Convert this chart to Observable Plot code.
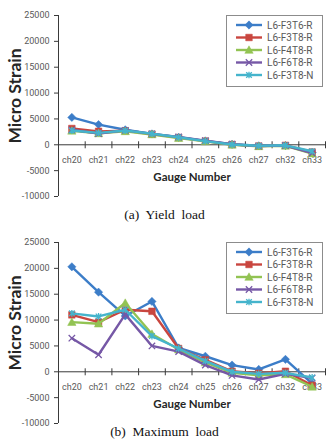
<!DOCTYPE html>
<html>
<head>
<meta charset="utf-8">
<script src="https://cdn.jsdelivr.net/npm/d3@7"></script>
<script src="https://cdn.jsdelivr.net/npm/@observablehq/plot@0.6"></script>
<style>
  body { margin: 0; background: #fff; }
  #page { position: relative; width: 329px; height: 441px; overflow: hidden; background: #fff; }
  .panel { position: absolute; left: 0; width: 329px; }
  .caption { position: absolute; left: 0; width: 329px; text-align: center; white-space: pre;
             font-family: "Liberation Serif", "Times New Roman", serif; font-size: 13.5px; line-height: 16px; color: #111; }
  .legend { position: absolute; left: 226px; top: 15px; width: 97px; height: 72px; box-sizing: border-box;
            border: 1px solid #8c8c8c; background: #fff; }
  .legend svg { display: block; }
</style>
</head>
<body>
<div id="page"></div>
<script>
// Strain gauge channels along the beam
const gauges = ["ch20", "ch21", "ch22", "ch23", "ch24", "ch25", "ch26", "ch27", "ch32", "ch33"];
const specimens = ["L6-F3T6-R", "L6-F3T8-R", "L6-F4T8-R", "L6-F6T8-R", "L6-F3T8-N"];
const specimenColors = ["#3c7dc8", "#c9463f", "#92c353", "#7658a6", "#45b4cc"];
const yTicks = [-10000, -5000, 0, 5000, 10000, 15000, 20000, 25000];

// Micro strain at yield load
const yieldF3T6R = [5300, 3900, 2900, 2100, 1450, 750, 100, -200, -150, -1500];
const yieldF3T8R = [3150, 2600, 2700, 2050, 1400, 700, 50, -250, -100, -1400];
const yieldF4T8R = [2700, 2200, 2600, 2000, 1300, 650, 0, -300, -200, -1700];
const yieldF6T8R = [2900, 2150, 2800, 2100, 1500, 800, 100, -250, -150, -1600];
const yieldF3T8N = [2750, 2300, 2750, 2150, 1450, 700, 50, -200, -100, -1250];

// Micro strain at maximum load
const maxF3T6R = [20300, 15400, 10800, 13600, 4600, 3000, 1300, 450, 2400, -2300];
const maxF3T8R = [11000, 9600, 12000, 11700, 4500, 2300, 100, -300, 100, -2600];
const maxF4T8R = [9600, 9300, 13300, 7300, 4300, 1800, -200, -700, -500, -2900];
const maxF6T8R = [6500, 3300, 11100, 5000, 3900, 1300, -700, -1500, -400, -1200];
const maxF3T8N = [11300, 10700, 12000, 6900, 4500, 2100, 0, -400, -200, -1100];

// Marker shapes (size → half-extent r)
const half = size => Math.sqrt(size / Math.PI);
const diamondMark = { draw(c, s) { const r = half(s) * 1.15; c.moveTo(0, -r); c.lineTo(r, 0); c.lineTo(0, r); c.lineTo(-r, 0); c.closePath(); } };
const squareMark = { draw(c, s) { const r = half(s); c.rect(-r, -r, 2 * r, 2 * r); } };
const triangleMark = { draw(c, s) { const r = half(s) * 1.1; c.moveTo(0, -r); c.lineTo(r, r * 0.8); c.lineTo(-r, r * 0.8); c.closePath(); } };
const crossMark = { draw(c, s) { const r = half(s); c.moveTo(-r, -r); c.lineTo(r, r); c.moveTo(r, -r); c.lineTo(-r, r); } };
const starMark = { draw(c, s) { const r = half(s); c.moveTo(-r, -r); c.lineTo(r, r); c.moveTo(r, -r); c.lineTo(-r, r); c.moveTo(0, -r * 1.2); c.lineTo(0, r * 1.2); } };
const tickMark = { draw(c, s) { const r = half(s); c.moveTo(0, -r); c.lineTo(0, r); } };

const markerStyles = [
  { symbol: diamondMark, filled: true, r: 3.6 },
  { symbol: squareMark, filled: true, r: 3.3 },
  { symbol: triangleMark, filled: true, r: 3.8 },
  { symbol: crossMark, filled: false, r: 3.2 },
  { symbol: starMark, filled: false, r: 2.8 }
];

const axisColor = "#3a3a3a";
const labelColor = "#595959";
const sansFont = "Roboto, 'Liberation Sans', sans-serif";

function chart(seriesValues) {
  const xDomain = [-0.5, gauges.length - 0.5];
  const marks = [
    Plot.ruleY([0], { stroke: axisColor, strokeWidth: 1 }),
    Plot.ruleX([xDomain[0]], { y1: yTicks[0], y2: yTicks[yTicks.length - 1], stroke: axisColor, strokeWidth: 1 }),
    Plot.dot(d3.range(1, gauges.length + 1), { x: d => d - 0.5, y: 0, symbol: tickMark, r: 3.5, stroke: axisColor, fill: "none", strokeWidth: 1 }),
    Plot.axisY(yTicks, { tickSize: 4, tickPadding: 5, fontSize: 9, color: labelColor, stroke: axisColor, tickFormat: d => String(d), label: null, fontFamily: sansFont }),
    Plot.text(gauges, { x: (d, i) => i, y: 0, dy: 15, text: d => d, fontSize: 9, fill: labelColor, fontFamily: sansFont }),
    Plot.text(["Gauge Number"], { frameAnchor: "bottom", dy: -19, lineAnchor: "middle", fontSize: 11.5, fontWeight: "bold", fill: "#262626", fontFamily: "Lato, sans-serif" }),
    Plot.text(["Micro Strain"], { frameAnchor: "left", textAnchor: "middle", lineAnchor: "middle", rotate: -90, dx: -43, dy: -10, fontSize: 17.5, fontWeight: "bold", fill: "#262626", fontFamily: "Lato, sans-serif" })
  ];
  seriesValues.forEach((values, k) => {
    const m = markerStyles[k];
    const color = specimenColors[k];
    marks.push(Plot.line(values, { x: (d, i) => i, y: d => d, stroke: color, strokeWidth: 2.4 }));
    marks.push(Plot.dot(values, {
      x: (d, i) => i, y: d => d, symbol: m.symbol, r: m.r,
      fill: m.filled ? color : "none", stroke: color, strokeWidth: m.filled ? 0.5 : 1.3
    }));
  });
  return Plot.plot({
    width: 329, height: 205,
    marginLeft: 58, marginRight: 4, marginTop: 15, marginBottom: 9,
    x: { domain: xDomain, axis: null },
    y: { domain: [yTicks[0], yTicks[yTicks.length - 1]] },
    style: { fontFamily: sansFont, background: "#fff", overflow: "visible" },
    marks
  });
}

function legend() {
  const box = document.createElement("div");
  box.className = "legend";
  const svg = d3.select(box).append("svg").attr("width", 95).attr("height", 70);
  specimens.forEach((name, k) => {
    const yRow = 9 + k * 12.5;
    const g = svg.append("g").attr("transform", `translate(0,${yRow})`);
    const color = specimenColors[k];
    const m = markerStyles[k];
    g.append("line").attr("x1", 9).attr("x2", 35).attr("y1", 0).attr("y2", 0)
      .attr("stroke", color).attr("stroke-width", 2.4);
    g.append("path").attr("transform", "translate(22,0)")
      .attr("d", d3.symbol(m.symbol, m.r * m.r * Math.PI)())
      .attr("fill", m.filled ? color : "none").attr("stroke", color)
      .attr("stroke-width", m.filled ? 0.5 : 1.3);
    g.append("text").attr("x", 40).attr("y", 0).attr("dy", "0.35em")
      .attr("font-family", sansFont).attr("font-size", 10).attr("fill", labelColor)
      .text(name);
  });
  return box;
}

const page = document.getElementById("page");
function addPanel(top, seriesValues, captionText, captionTop) {
  const panel = document.createElement("div");
  panel.className = "panel";
  panel.style.top = top + "px";
  panel.appendChild(chart(seriesValues));
  panel.appendChild(legend());
  page.appendChild(panel);
  const cap = document.createElement("div");
  cap.className = "caption";
  cap.style.top = captionTop + "px";
  cap.textContent = captionText;
  page.appendChild(cap);
}

addPanel(0, [yieldF3T6R, yieldF3T8R, yieldF4T8R, yieldF6T8R, yieldF3T8N], "(a)  Yield  load", 207);
addPanel(226.7, [maxF3T6R, maxF3T8R, maxF4T8R, maxF6T8R, maxF3T8N], "(b)  Maximum  load", 424);
</script>
</body>
</html>
